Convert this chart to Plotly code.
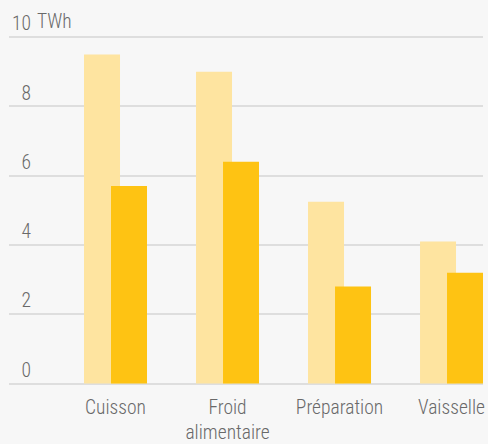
import plotly.graph_objects as go

categories = ["Cuisson", "Froid<br>alimentaire", "Préparation", "Vaisselle"]
series_a = [9.5, 9.0, 5.25, 4.1]
series_b = [5.7, 6.4, 2.8, 3.2]
tick_vals = [0, 2, 4, 6, 8, 10]
tick_text = ["\u20070", "\u20072", "\u20074", "\u20076", "\u20078", "10"]
unit_label = "TWh"

FONT = "Roboto Condensed, Roboto, sans-serif"
GRAY = "#696969"
FS = 19.5

fig = go.Figure()
fig.add_trace(go.Bar(x=categories, y=series_a, marker_color="#fee4a0",
                     marker_line_width=0, width=0.3214, offset=-0.28125,
                     showlegend=False, hoverinfo="skip"))
fig.add_trace(go.Bar(x=categories, y=series_b, marker_color="#fec313",
                     marker_line_width=0, width=0.3214, offset=-0.0402,
                     showlegend=False, hoverinfo="skip"))

fig.update_layout(
    width=488, height=444,
    margin=dict(l=9, r=5, t=6, b=57, autoexpand=False),
    paper_bgcolor="#f7f7f7", plot_bgcolor="#f7f7f7",
    barmode="overlay",
    font=dict(family=FONT, size=FS, color=GRAY, weight=300),
    xaxis=dict(type="category", range=[-0.951, 3.281], showgrid=False,
               showline=False, ticks="", ticklabelstandoff=6, automargin=False,
               tickfont=dict(size=FS, color=GRAY, weight=300)),
    yaxis=dict(range=[-0.1, 10.9], tickvals=tick_vals, ticktext=tick_text,
               ticklabelposition="inside top", showgrid=True, automargin=False,
               gridcolor="#dedede", gridwidth=1.5, zeroline=False,
               showline=False, ticks="", tickfont=dict(size=FS, color=GRAY, weight=300)),
    annotations=[dict(text=unit_label, xref="paper", yref="y", x=(35 - 9) / 474,
                      y=10, xanchor="left", yanchor="bottom", showarrow=False,
                      font=dict(size=FS, color=GRAY, weight=300), yshift=2)],
)

fig.write_html("out.html", config={"displayModeBar": False},
               post_script="document.body.style.margin='0';document.body.style.padding='0';")
